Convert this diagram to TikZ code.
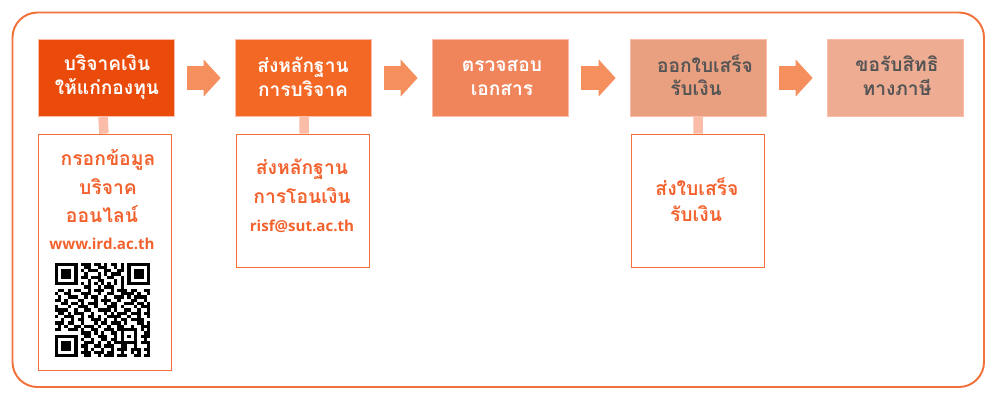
\documentclass[tikz,border=0pt]{standalone}
\usepackage{fontspec}
\setmainfont{Open Sans}
\newfontfamily\thaifont[Script=Thai]{Loma}
\usetikzlibrary{arrows.meta}

\definecolor{frameorange}{HTML}{F2703A}
\definecolor{stepone}{HTML}{EA4A0A}
\definecolor{steptwo}{HTML}{F26824}
\definecolor{stepthree}{HTML}{F0845A}
\definecolor{stepfour}{HTML}{E9A080}
\definecolor{stepfive}{HTML}{EEAD93}
\definecolor{flowfill}{HTML}{F68F5E}
\definecolor{stubfill}{HTML}{FBBDA8}
\definecolor{darktext}{HTML}{555555}
\definecolor{detailtext}{HTML}{F2622E}

\tikzset{
    mainbox/.style={draw=stubfill,line width=.4pt,minimum width=2.72cm,minimum height=1.55cm,inner sep=0pt},
    detailbox/.style={draw=frameorange,line width=.45pt,minimum width=2.66cm,inner sep=0pt},
    steptext/.style={font=\thaifont\bfseries\fontsize{10.9}{13.6}\selectfont,align=center,inner sep=0pt},
    detailtextstyle/.style={font=\thaifont\bfseries\fontsize{11}{13.6}\selectfont,text=detailtext,inner sep=0pt},
    linktext/.style={font=\bfseries\fontsize{8.6}{10}\selectfont,text=detailtext,inner sep=0pt},
    flowarrow/.style={draw=flowfill,line width=.48cm,-{Triangle[length=.34cm,width=.72cm]},shorten <=.26cm,shorten >=.28cm},
    stub/.style={draw=stubfill,line width=.19cm}
}

\begin{document}
\begin{tikzpicture}[x=.02cm,y=-.02cm]
    \useasboundingbox (0,0) rectangle (1000,400);
    \draw[draw=frameorange,line width=1.1pt,rounded corners=.5cm] (12.5,12.5) rectangle (984,387);

    \node[mainbox,fill=stepone] (give) at (106,78) {};
    \node[mainbox,fill=steptwo] (proof) at (303,78) {};
    \node[mainbox,fill=stepthree] (check) at (500,78) {};
    \node[mainbox,fill=stepfour] (receipt) at (698,78) {};
    \node[mainbox,fill=stepfive] (tax) at (895,78) {};

    \node[steptext,text=white] (givetext) at (107,77.5) {บริจาคเงิน\\ให้แก่กองทุน};
    \node[steptext,text=white] (prooftext) at (303,77) {ส่งหลักฐาน\\การบริจาค};
    \node[steptext,text=white] (checktext) at (502,77.5) {ตรวจสอบ\\เอกสาร};
    \node[steptext,text=darktext] (receipttext) at (705,64) {ออกใบเสร็จ};
    \node[steptext,text=darktext] (receipttexttwo) at (696,88) {รับเงิน};
    \node[steptext,text=darktext] (taxtext) at (897,75.5) {ขอรับสิทธิ\\ทางภาษี};

    \node[detailbox,minimum height=4.72cm] (givedetail) at (105,252) {};
    \node[detailbox,minimum height=2.66cm] (proofdetail) at (302.5,200.5) {};
    \node[detailbox,minimum height=2.66cm] (receiptdetail) at (697.5,200.5) {};

    \node[detailtextstyle] (givelineone) at (108,160) {กรอกข้อมูล};
    \node[detailtextstyle] (givelinetwo) at (108,187) {บริจาค};
    \node[detailtextstyle] (givelinethree) at (102,214) {ออนไลน์};
    \node[linktext] (givelink) at (102,244) {www.ird.ac.th};

    \node[detailtextstyle] (prooflineone) at (302,169) {ส่งหลักฐาน};
    \node[detailtextstyle] (prooflinetwo) at (302,196) {การโอนเงิน};
    \node[linktext] (prooflink) at (302,226) {risf@sut.ac.th};

    \node[detailtextstyle] (receiptlineone) at (697,187) {ส่งใบเสร็จ};
    \node[detailtextstyle] (receiptlinetwo) at (696,214) {รับเงิน};

    \draw[flowarrow] (give) -- (proof);
    \draw[flowarrow] (proof) -- (check);
    \draw[flowarrow] (check) -- (receipt);
    \draw[flowarrow] (receipt) -- (tax);

    \draw[stub] ([xshift=-.06cm]give.south) -- ([xshift=-.02cm]givedetail.north);
    \draw[stub] ([xshift=.02cm]proof.south) -- ([xshift=.03cm]proofdetail.north);
    \draw[stub] (receipt.south) -- ([xshift=.01cm]receiptdetail.north);

    % QR code, one run x/length per module row
    \begin{scope}[shift={(54.5,262.5)},x=.0662cm,y=-.0655cm]
        \foreach \y/\runs in {
            0/{0/7,8/3,12/2,15/1,17/2,20/1,22/7},
            1/{0/1,6/1,9/2,13/3,18/1,20/1,22/1,28/1},
            2/{0/1,2/3,6/1,8/1,10/3,15/2,19/2,22/1,24/3,28/1},
            3/{0/1,2/3,6/1,9/1,13/1,15/1,17/3,22/1,24/3,28/1},
            4/{0/1,2/3,6/1,8/2,11/3,16/2,20/1,22/1,24/3,28/1},
            5/{0/1,6/1,10/1,13/2,18/1,20/1,22/1,28/1},
            6/{0/7,8/1,10/1,12/1,14/1,16/1,18/1,20/1,22/7},
            7/{9/2,13/1,15/3,20/1},
            8/{1/2,4/1,6/2,10/1,12/3,17/1,19/3,23/2,27/2},
            9/{0/1,3/2,8/3,13/1,16/2,20/4,25/1,28/1},
            10/{1/1,4/2,6/1,9/1,11/2,15/1,18/3,22/1,24/4},
            11/{0/2,3/1,7/2,12/1,14/3,19/1,23/2,27/1},
            12/{2/2,5/2,8/1,10/3,15/1,17/2,21/3,25/2,28/1},
            13/{0/1,4/1,7/3,12/1,16/3,20/1,24/1,26/3},
            14/{0/4,6/1,9/2,13/4,18/1,21/2,25/1,28/1},
            15/{1/2,4/1,6/3,11/1,15/1,17/1,19/3,23/3,27/2},
            16/{0/1,3/3,8/1,10/2,13/1,16/4,22/1,25/1,28/1},
            17/{2/1,5/1,7/2,11/3,15/1,18/1,20/2,23/4},
            18/{0/3,4/2,8/1,12/1,14/2,17/3,21/1,25/2,28/1},
            19/{1/1,3/1,6/2,9/3,13/1,16/1,19/2,23/1,26/3},
            20/{0/2,4/3,8/1,11/2,15/3,19/1,20/5,26/1,28/1},
            21/{8/3,12/1,14/1,17/2,20/1,24/1,27/2},
            22/{0/7,9/2,13/3,18/1,20/1,22/1,24/1,26/3},
            23/{0/1,6/1,8/1,11/1,14/2,17/2,20/1,24/1,27/1},
            24/{0/1,2/3,6/1,9/3,13/1,16/1,18/7,26/3},
            25/{0/1,2/3,6/1,8/2,12/2,15/3,20/2,24/1,28/1},
            26/{0/1,2/3,6/1,9/1,11/1,14/1,17/1,19/3,23/3,27/2},
            27/{0/1,6/1,8/3,12/3,16/2,20/1,23/1,25/1,28/1},
            28/{0/7,9/2,13/1,15/3,19/3,24/2,27/2}} {
            \foreach \x/\n in \runs {
                \fill[black] (\x,\y) rectangle (\x+\n,\y+1);
            }
        }
    \end{scope}
\end{tikzpicture}
\end{document}
